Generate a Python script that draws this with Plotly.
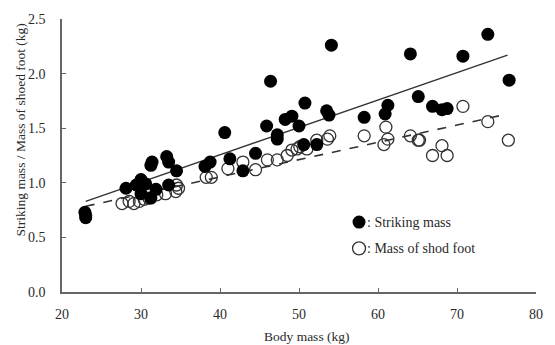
import plotly.graph_objects as go

# Striking mass (filled circles)
strike_x = [22.9, 23.0, 28.1, 29.4, 30.0, 30.6, 30.0, 31.25, 31.4, 31.25, 31.9, 33.25, 33.5, 33.5, 34.5,
            38.1, 38.75, 40.6, 41.25, 42.9, 44.5, 45.9, 46.4, 47.25, 47.25, 48.25, 49.1, 50.0, 50.75,
            50.6, 52.25, 53.5, 53.8, 54.1, 58.25, 60.9, 61.25, 64.1, 65.1, 66.9, 68.1, 68.75,
            70.75, 73.9, 76.6]
strike_y = [0.73, 0.68, 0.95, 0.98, 1.03, 0.99, 0.90, 1.16, 1.19, 0.86, 0.94, 1.24, 1.19, 0.98, 1.11,
            1.15, 1.19, 1.46, 1.22, 1.11, 1.27, 1.52, 1.93, 1.44, 1.40, 1.58, 1.61, 1.52, 1.73,
            1.35, 1.35, 1.66, 1.62, 2.26, 1.60, 1.63, 1.71, 2.18, 1.79, 1.70, 1.67, 1.68,
            2.16, 2.36, 1.94]

# Mass of shod foot (open circles)
foot_x = [23.0, 27.6, 28.5, 29.1, 29.8, 30.4, 31.0, 32.0, 33.1, 34.4, 34.5, 34.75,
          38.25, 38.9, 41.0, 42.9, 44.5, 46.0, 47.25, 48.5, 49.1, 49.75, 50.1, 51.0, 52.25,
          53.6, 53.9, 58.25, 60.75, 61.0, 61.25, 64.1, 65.1, 65.25, 66.9, 68.1, 68.75,
          70.75, 73.9, 76.5]
foot_y = [0.70, 0.81, 0.83, 0.81, 0.83, 0.85, 0.86, 0.89, 0.90, 0.92, 0.98, 0.95,
          1.05, 1.05, 1.13, 1.19, 1.12, 1.21, 1.21, 1.25, 1.30, 1.31, 1.33, 1.31, 1.39,
          1.40, 1.43, 1.43, 1.35, 1.51, 1.40, 1.43, 1.39, 1.39, 1.25, 1.34, 1.25,
          1.70, 1.56, 1.39]

# Regression line end points
fit_x = [23.0, 76.4]
strike_fit_y = [0.83, 2.17]
foot_fit_y = [0.785, 1.63]

x_ticks = [20, 30, 40, 50, 60, 70, 80]
y_ticks = [0.0, 0.5, 1.0, 1.5, 2.0, 2.5]
y_tick_text = ["0.0", "0.5", "1.0", "1.5", "2.0", "2.5"]

legend_labels = [": Striking mass", ": Mass of shod foot"]
legend_anchor_x = 57.6
legend_anchor_y = [0.64, 0.40]

FONT = "Liberation Serif, Times New Roman, serif"
TXT = "#2a2a2a"

fig = go.Figure()
fig.add_trace(go.Scatter(x=fit_x, y=strike_fit_y, mode="lines",
                         line=dict(color="#333333", width=1.4), showlegend=False, hoverinfo="skip"))
fig.add_trace(go.Scatter(x=fit_x, y=foot_fit_y, mode="lines",
                         line=dict(color="#333333", width=1.6, dash="dash"), showlegend=False, hoverinfo="skip"))
fig.add_trace(go.Scatter(x=foot_x, y=foot_y, mode="markers",
                         marker=dict(size=12, color="rgba(255,255,255,0)", line=dict(color="#333333", width=1.3)),
                         showlegend=False))
fig.add_trace(go.Scatter(x=strike_x, y=strike_y, mode="markers",
                         marker=dict(size=13, color="#000000", line=dict(width=0)),
                         showlegend=False))

# legend drawn as shapes + text
for i, lab in enumerate(legend_labels):
    filled = i == 0
    fig.add_shape(type="circle", xref="x", yref="y", xsizemode="pixel", ysizemode="pixel",
                  xanchor=legend_anchor_x, yanchor=legend_anchor_y[i],
                  x0=-6.5, x1=6.5, y0=-6.5, y1=6.5,
                  fillcolor="#000000" if filled else "rgba(0,0,0,0)",
                  line=dict(color="#000000" if filled else "#333333", width=0 if filled else 1.3))
    fig.add_annotation(x=legend_anchor_x, y=legend_anchor_y[i], xref="x", yref="y",
                       text=lab, showarrow=False, xanchor="left", yanchor="middle", xshift=6,
                       font=dict(family=FONT, size=14, color=TXT))

fig.add_annotation(text="Body mass (kg)", x=0.5, y=0, xref="paper", yref="paper",
                   xshift=8, yshift=-44, showarrow=False, xanchor="center", yanchor="middle",
                   font=dict(family=FONT, size=13.5, color=TXT))
fig.add_annotation(text="Striking mass / Mass of shoed foot (kg)", x=0, y=0.5, xref="paper", yref="paper",
                   xshift=-42, yshift=25, showarrow=False, textangle=-90, xanchor="center", yanchor="middle",
                   font=dict(family=FONT, size=13.5, color=TXT))

axis_common = dict(showgrid=False, zeroline=False, showline=True, linecolor="#666666", linewidth=1.5,
                   ticks="inside", ticklen=4, tickwidth=1, tickcolor="#666666",
                   tickfont=dict(family=FONT, size=14, color=TXT))
fig.update_xaxes(range=[20, 80], tickvals=x_ticks, ticklabelstandoff=8, **axis_common)
fig.update_yaxes(range=[0, 2.5], tickvals=y_ticks, ticktext=y_tick_text, ticklabelstandoff=12, **axis_common)

fig.update_layout(width=555, height=345, margin=dict(l=62, r=12, t=15, b=53),
                  plot_bgcolor="white", paper_bgcolor="white", showlegend=False)

fig.write_html("out.html")
